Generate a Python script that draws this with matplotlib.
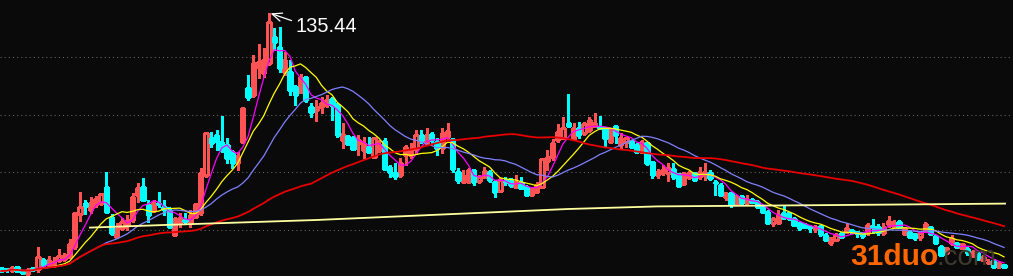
import numpy as np
import pandas as pd
import matplotlib
matplotlib.use("Agg")
import matplotlib.pyplot as plt

# daily OHLC (192 sessions)
opens = [8.0, 7.5, 6.8, 8.7, 5.8, 5.0, 7.8, 7.4, 12.0, 9.4,
         9.5, 12.0, 12.5, 13.7, 18.5, 35.0, 40.4, 37.0, 39.5, 40.4,
         48.4, 33.4, 23.4, 27.8, 29.5, 32.0, 44.5, 48.6, 39.5, 36.6,
         40.6, 38.6, 37.0, 24.5, 30.6, 32.0, 30.6, 33.6, 35.4, 54.5,
         72.8, 74.5, 71.0, 69.5, 66.2, 60.4, 71.2, 97.8, 94.5, 108.6,
         105.6, 110.4, 123.6, 118.6, 106.2, 106.2, 98.6, 96.2, 103.6, 88.6,
         87.0, 88.4, 89.5, 92.4, 89.5, 72.0, 74.0, 73.2, 70.5, 67.0,
         68.6, 63.6, 67.0, 71.6, 58.4, 55.4, 54.5, 64.5, 64.5, 67.4,
         74.5, 70.4, 75.0, 71.2, 67.8, 73.6, 72.4, 56.2, 51.2, 51.2,
         57.0, 51.6, 53.4, 56.2, 51.0, 46.5, 52.2, 52.4, 48.6, 50.4,
         48.6, 44.5, 46.2, 48.6, 61.5, 63.6, 72.0, 73.2, 80.4, 72.5,
         77.8, 75.4, 77.0, 79.2, 78.6, 77.8, 71.2, 79.0, 69.5, 71.2,
         71.5, 69.5, 66.2, 70.4, 61.2, 54.5, 55.4, 55.6, 57.4, 54.8,
         50.0, 53.6, 55.4, 53.6, 54.5, 55.6, 51.2, 49.5, 43.6, 45.4,
         40.0, 44.0, 40.4, 42.0, 41.2, 38.6, 36.2, 30.4, 30.6, 35.6,
         35.6, 32.4, 30.4, 30.0, 29.0, 27.8, 29.0, 24.4, 20.4, 22.0,
         25.6, 25.8, 27.0, 26.2, 25.4, 25.4, 29.0, 28.6, 25.4, 30.0,
         29.0, 31.2, 24.8, 26.2, 24.8, 23.4, 26.6, 28.4, 24.0, 18.6,
         15.6, 20.4, 20.6, 17.8, 17.4, 14.5, 15.4, 12.0, 10.4, 12.0,
         8.6, 9.5]
highs = [8.5, 8.0, 9.0, 9.0, 6.2, 8.0, 8.2, 18.4, 13.0, 14.0,
         13.5, 17.4, 15.5, 22.4, 36.0, 45.8, 42.0, 43.6, 44.0, 45.4,
         56.0, 35.0, 30.5, 32.8, 34.5, 45.4, 50.4, 52.8, 42.0, 42.0,
         45.8, 42.0, 38.6, 33.6, 35.4, 35.4, 37.0, 40.0, 57.8, 76.2,
         76.2, 77.0, 84.2, 72.8, 67.0, 66.2, 88.5, 104.5, 114.5, 119.8,
         117.8, 135.44, 128.2, 128.6, 116.2, 112.0, 99.5, 105.0, 103.6, 90.4,
         92.0, 93.6, 94.5, 93.6, 90.5, 80.5, 74.5, 74.0, 74.5, 73.6,
         73.6, 73.6, 72.0, 72.8, 59.5, 60.4, 62.8, 69.5, 70.5, 77.0,
         77.0, 77.8, 76.2, 72.8, 77.8, 80.4, 72.8, 57.8, 57.0, 57.8,
         57.0, 54.5, 58.6, 57.0, 52.0, 52.8, 53.5, 52.8, 54.5, 53.6,
         49.5, 48.6, 51.2, 62.5, 67.0, 72.4, 79.8, 83.6, 94.8, 80.4,
         80.8, 81.2, 83.6, 85.4, 84.0, 78.2, 77.8, 79.5, 75.4, 73.6,
         72.0, 70.4, 72.0, 71.2, 61.5, 57.5, 59.5, 60.4, 60.4, 55.4,
         56.2, 56.6, 55.6, 58.6, 60.6, 57.0, 52.0, 50.4, 46.2, 45.6,
         44.4, 44.5, 44.5, 42.8, 42.0, 39.5, 37.0, 33.4, 37.0, 39.0,
         36.2, 33.4, 31.2, 30.4, 29.5, 29.5, 29.5, 25.4, 23.6, 25.6,
         26.2, 30.6, 27.4, 26.6, 26.2, 30.4, 32.4, 30.0, 30.4, 34.0,
         32.0, 32.0, 28.6, 27.0, 25.4, 26.2, 31.2, 28.6, 24.5, 19.5,
         18.6, 24.5, 21.2, 20.6, 18.6, 17.0, 16.2, 14.5, 12.5, 12.5,
         11.2, 10.0]
lows = [6.0, 6.2, 6.0, 6.5, 5.0, 4.2, 6.5, 6.2, 8.7, 8.5,
        8.5, 11.0, 11.5, 13.4, 17.5, 31.5, 35.0, 35.4, 38.6, 39.5,
        36.1, 24.5, 23.0, 27.0, 27.0, 31.2, 41.2, 42.0, 31.2, 36.2,
        38.6, 34.5, 27.8, 24.2, 28.6, 30.5, 28.4, 32.8, 34.5, 53.6,
        68.6, 67.0, 66.0, 60.4, 57.8, 57.0, 70.8, 92.0, 93.6, 102.8,
        103.6, 109.5, 117.0, 106.2, 104.5, 94.5, 89.5, 95.4, 91.2, 83.6,
        81.6, 85.4, 88.6, 82.0, 73.6, 68.0, 69.5, 67.0, 64.5, 62.8,
        65.4, 62.8, 66.2, 57.0, 53.6, 52.4, 53.6, 59.5, 63.0, 65.4,
        70.4, 69.5, 70.4, 64.5, 65.4, 72.0, 56.2, 50.4, 50.6, 50.4,
        49.5, 50.6, 52.8, 51.2, 43.6, 46.2, 49.5, 48.6, 47.8, 47.8,
        44.0, 44.0, 45.8, 48.2, 57.0, 62.0, 71.2, 72.8, 78.6, 72.0,
        72.8, 74.5, 76.2, 78.6, 77.8, 68.6, 70.8, 70.4, 67.8, 68.6,
        67.8, 65.4, 65.4, 59.5, 53.2, 52.8, 54.5, 51.6, 52.4, 48.4,
        49.5, 52.4, 51.6, 52.4, 52.0, 52.0, 44.5, 44.0, 42.0, 38.4,
        39.5, 40.0, 40.0, 40.4, 37.8, 35.6, 30.4, 29.0, 30.4, 32.4,
        32.0, 29.0, 27.0, 28.4, 26.2, 26.2, 24.0, 21.6, 19.5, 21.6,
        23.4, 25.4, 25.4, 23.6, 22.8, 24.5, 25.4, 24.5, 24.5, 28.6,
        28.6, 27.8, 24.5, 23.4, 22.0, 22.0, 26.2, 24.5, 20.0, 14.0,
        15.4, 19.5, 17.8, 17.4, 14.5, 13.6, 12.0, 11.5, 10.0, 8.4,
        8.4, 8.5]
closes = [6.5, 6.8, 8.2, 6.7, 5.5, 7.0, 7.0, 13.4, 9.4, 12.0,
          11.0, 14.2, 14.5, 19.9, 35.5, 38.4, 39.0, 40.6, 42.5, 45.0,
          36.2, 25.6, 27.5, 31.2, 32.0, 43.6, 47.8, 42.0, 34.5, 40.4,
          39.8, 37.4, 28.6, 32.4, 32.8, 31.5, 34.5, 40.0, 55.4, 75.6,
          70.6, 71.6, 67.0, 62.8, 60.4, 64.0, 87.8, 93.6, 110.4, 111.2,
          112.0, 130.8, 121.2, 107.8, 112.0, 97.0, 94.5, 103.6, 92.0, 86.2,
          88.6, 90.6, 92.0, 89.5, 74.5, 75.0, 70.0, 67.4, 72.0, 70.6,
          66.2, 72.8, 69.5, 57.4, 56.2, 54.2, 60.6, 68.6, 67.0, 74.5,
          72.0, 74.5, 72.0, 67.8, 75.4, 76.6, 57.4, 52.0, 54.0, 57.0,
          51.2, 53.4, 56.5, 52.0, 46.0, 52.0, 51.2, 49.5, 51.2, 48.2,
          44.5, 47.5, 49.5, 62.5, 63.6, 70.4, 76.2, 77.8, 79.0, 77.8,
          74.5, 79.8, 82.0, 80.4, 77.8, 72.8, 77.0, 74.5, 72.8, 72.8,
          68.6, 66.2, 71.2, 60.4, 54.5, 55.8, 57.0, 57.8, 53.4, 49.2,
          55.6, 55.6, 52.0, 56.2, 56.2, 52.8, 50.4, 44.5, 45.6, 40.0,
          43.6, 40.6, 42.4, 41.2, 38.6, 36.2, 30.6, 32.4, 34.5, 32.8,
          32.8, 29.5, 27.8, 28.6, 27.8, 28.6, 25.0, 22.0, 22.8, 24.5,
          23.6, 27.8, 25.8, 25.4, 24.0, 29.5, 28.4, 26.2, 28.6, 31.6,
          31.2, 28.4, 27.8, 23.6, 22.8, 25.4, 30.0, 25.0, 20.6, 14.5,
          17.8, 22.8, 18.6, 20.0, 15.4, 16.2, 12.8, 13.6, 11.2, 8.6,
          10.6, 8.6]

# hand-drawn trend line (session index, price)
trend_x = [16.9, 31.0, 60.0, 108.0, 125.0, 160.0, 191.2]
trend_y = [28.2, 29.5, 32.0, 37.5, 38.8, 39.5, 40.2]

grid_levels = [113.5, 84.5, 56.0, 27.0]
peak_label = "135.44"

ma_windows = [5, 10, 20, 60]
ma_colors = ["#ff00ff", "#ffff00", "#8080ff", "#e80000"]
ma_widths = [0.9, 0.9, 0.9, 1.3]

bg = "#0a0a0a"
up_col = "#ff5252"
down_col = "#00ffff"

n = len(closes)
x = np.arange(n)
o = np.array(opens)
h = np.array(highs)
l = np.array(lows)
c = np.array(closes)
up = c >= o

fig = plt.figure(figsize=(10.13, 2.76), dpi=100, facecolor=bg)
ax = fig.add_axes([0, 0, 1, 1])
ax.set_facecolor(bg)

for g in grid_levels:
    ax.axhline(g, color="#6a6a6a", lw=0.75, linestyle=(0, (1, 3)), zorder=1)

# wicks
ax.vlines(x[up], l[up], h[up], color=up_col, lw=0.75, zorder=2, antialiased=False)
ax.vlines(x[~up], l[~up], h[~up], color=down_col, lw=0.75, zorder=2, antialiased=False)
# bodies: hollow red for up days, filled cyan for down days
ax.bar(x[up], c[up] - o[up], bottom=o[up], width=0.66, facecolor=bg,
       edgecolor=up_col, linewidth=0.75, zorder=3, antialiased=False)
ax.bar(x[~up], c[~up] - o[~up], bottom=o[~up], width=0.66, facecolor=down_col,
       edgecolor=down_col, linewidth=0.75, zorder=3, antialiased=False)

s = pd.Series(closes)
for w, col, lw in zip(ma_windows, ma_colors, ma_widths):
    ax.plot(x, s.rolling(w, min_periods=1).mean(), color=col, lw=lw, zorder=4)

ax.plot(trend_x, trend_y, color="#ffffa0", lw=1.3, zorder=4)

# peak marker
ax.annotate("", xy=(51.3, 135.3), xytext=(55.3, 131.7),
            arrowprops=dict(arrowstyle="->,head_length=0.7,head_width=0.3",
                            color="white", lw=0.9, shrinkA=0, shrinkB=0),
            zorder=5)
ax.text(56.0, 126.0, peak_label, color="white", fontsize=14.5,
        family="Liberation Sans", va="baseline", ha="left", zorder=5)

# watermark
fig.text(850 / 1013, 1 - 265 / 276, "31duo", color="#ff6600", fontsize=21.5,
         fontweight="bold", family="Liberation Sans", va="baseline", ha="left")
fig.text(936 / 1013, 1 - 265 / 276, ".com", color="#3d3a2e", fontsize=20,
         family="Liberation Sans", va="baseline", ha="left")

ax.set_xlim(-1.25 / 5.25, (1013 - 1.25) / 5.25)
ax.set_ylim(4, 142)
ax.axis("off")

fig.savefig("out.png", dpi=100, facecolor=bg)
